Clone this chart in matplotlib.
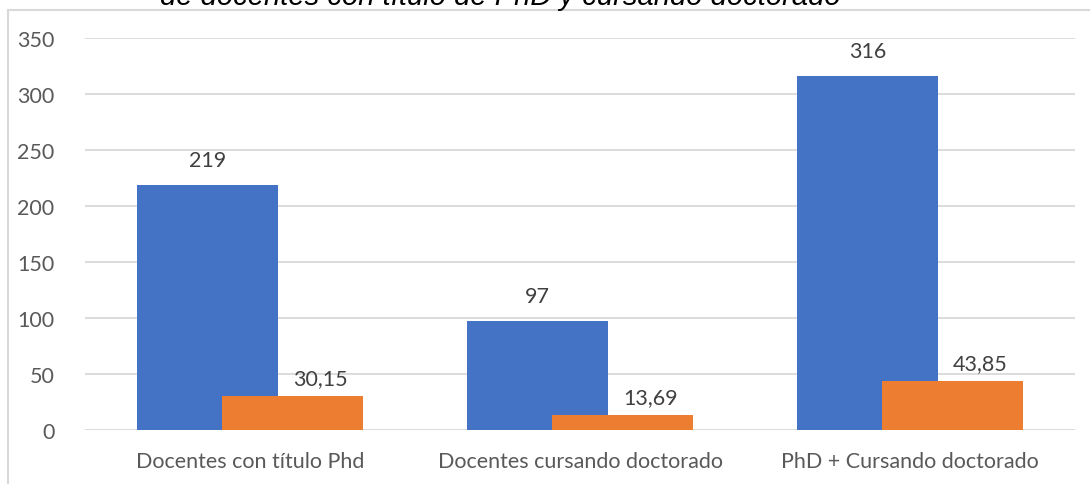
import numpy as np
import matplotlib
matplotlib.use("Agg")
import matplotlib.pyplot as plt
from matplotlib.patches import Rectangle

# Datos
categorias = ["Docentes con título Phd", "Docentes cursando doctorado", "PhD + Cursando doctorado"]
numero = [219, 97, 316]
porcentaje = [30.15, 13.69, 43.85]
etiquetas_numero = ["219", "97", "316"]
etiquetas_porcentaje = ["30,15", "13,69", "43,85"]
yticks = [0, 50, 100, 150, 200, 250, 300, 350]

plt.rcParams['font.family'] = ['Lato', 'DejaVu Sans']

fig = plt.figure(figsize=(10.9, 4.85), dpi=100)
ax = fig.add_axes([85 / 1090, 54 / 485, 990 / 1090, 392 / 485])

x = np.arange(len(categorias))
ancho = 0.427
desp = 0.129

ax.bar(x - desp, numero, ancho, color="#4472C4", zorder=2)
ax.bar(x + desp, porcentaje, ancho, color="#ED7D31", zorder=3)

# Etiquetas de datos
for i in range(len(categorias)):
    ax.annotate(etiquetas_numero[i], (x[i] - desp, numero[i]), xytext=(0, 18),
                textcoords="offset points", ha="center", va="center",
                fontsize=15.5, color="#404040")
    ax.annotate(etiquetas_porcentaje[i], (x[i] + desp, porcentaje[i]), xytext=(20, 13),
                textcoords="offset points", ha="center", va="center",
                fontsize=15.5, color="#404040")

ax.set_xlim(-0.5, 2.5)
ax.set_ylim(0, 350)
ax.set_yticks(yticks)
ax.set_xticks(x)
ax.set_xticklabels(categorias)
ax.tick_params(axis="both", length=0, labelsize=15.5, labelcolor="#595959")
ax.tick_params(axis="x", pad=15)
ax.tick_params(axis="y", pad=22)
ax.grid(axis="y", color="#d9d9d9", linewidth=1.3, zorder=0)
ax.set_axisbelow(True)
for s in ax.spines.values():
    s.set_visible(False)

# Marco del gráfico
fig.patches.append(Rectangle((8 / 1090, -0.1), 1.2, (485 - 11) / 485 + 0.1,
                             transform=fig.transFigure, fill=False,
                             edgecolor="#d9d9d9", linewidth=1.5))

# Título (cortado en la parte superior)
fig.text(500 / 1090, 1 - 5 / 485, "de docentes con título de PhD y cursando doctorado",
         ha="center", va="baseline", fontsize=21, style="italic",
         family=["Liberation Sans", "DejaVu Sans"], color="#000000")

fig.savefig("out.png", dpi=100)
